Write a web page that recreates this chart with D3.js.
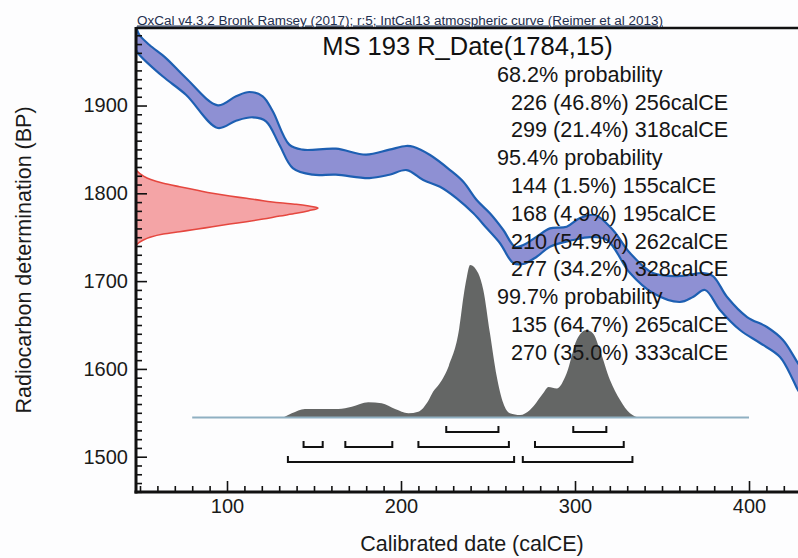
<!DOCTYPE html>
<html><head><meta charset="utf-8">
<script src="https://cdn.jsdelivr.net/npm/d3@7"></script>
<style>
body{margin:0;background:#fff;}
svg{display:block;font-family:"Liberation Sans",Arial,Helvetica,sans-serif;}
</style>
</head><body>
<svg id="chart" width="798" height="558"></svg>
<script>
// ---------------- data ----------------
const headerText = "OxCal v4.3.2 Bronk Ramsey (2017); r:5; IntCal13 atmospheric curve (Reimer et al 2013)";
const titleText = "MS 193 R_Date(1784,15)";
const xLabel = "Calibrated date (calCE)";
const yLabel = "Radiocarbon determination (BP)";
const xTickValues = [100, 200, 300, 400];
const yTickValues = [1500, 1600, 1700, 1800, 1900];

// calibration curve band (calCE year, BP)
const curveUpper = [[47.7,1990],[49.6,1980.6],[55.3,1969.2],[64.9,1954.0],[76.4,1931.3],[94.7,1900.2],[105.2,1910.5],[112.8,1915.4],[120.5,1910.5],[126.3,1893.4],[135.8,1855.4],[143.5,1849.7],[162.6,1850.8],[179.9,1844.0],[193.3,1849.7],[202.9,1853.9],[207.1,1853.0],[216.7,1843.6],[228.2,1826.5],[235.8,1813.2],[243.5,1792.4],[251.1,1777.2],[258.8,1758.2],[265.5,1739.2],[270.3,1741.1],[278.0,1750.6],[285.6,1760.1],[295.2,1762.0],[302.9,1771.9],[311.5,1775.3],[321.8,1758.2],[331.6,1732.0],[344.8,1709.2],[360.3,1705.8],[373.6,1709.2],[379.3,1705.8],[387.4,1681.9],[398.9,1659.1],[410.3,1647.7],[419.5,1632.9],[428.1,1606.7],[434.0,1590]];
const curveLower = [[47.7,1963.2],[49.6,1957.9],[63.0,1933.3],[76.4,1912.3],[94.7,1874.4],[105.2,1882.7],[114.8,1886.6],[122.4,1882.0],[130.1,1855.4],[137.8,1828.8],[149.3,1821.2],[162.6,1821.2],[181.8,1817.4],[193.3,1821.2],[203.3,1826.5],[212.8,1815.1],[222.4,1807.5],[232.0,1794.3],[241.6,1777.2],[249.3,1760.1],[256.9,1743.1],[264.5,1720.6],[270.3,1719.5],[278.0,1727.8],[285.6,1739.2],[299.0,1746.8],[308.6,1750.2],[318.4,1746.8],[331.6,1709.2],[344.8,1686.4],[360.3,1676.2],[367.8,1681.9],[374.7,1689.9],[383.3,1667.1],[394.8,1644.3],[406.3,1629.5],[417.8,1613.6],[425.3,1587.4],[428.1,1576],[434.0,1560]];

// radiocarbon likelihood (BP, relative density)
const likelihood = [[1826.5,0],[1819.7,0.04],[1815.9,0.077],[1811.4,0.15],[1807.5,0.24],[1803.8,0.33],[1800.0,0.42],[1796.9,0.515],[1794.3,0.607],[1791.6,0.698],[1789.3,0.79],[1787.5,0.88],[1785.5,0.95],[1783.4,1.0],[1780.2,0.95],[1777.2,0.88],[1774.1,0.79],[1770.7,0.698],[1767.7,0.607],[1765.0,0.515],[1762.0,0.42],[1759.0,0.33],[1756.3,0.24],[1753.6,0.15],[1749.9,0.077],[1746.8,0.04],[1741.1,0]];

// calibrated posterior (calCE year, relative density)
const posterior = [[80,0],[131.4,0],[137.2,0.028],[144.8,0.056],[152.5,0.056],[164.0,0.056],[171.7,0.071],[181.2,0.10],[188.9,0.093],[196.6,0.056],[204.2,0.028],[209.9,0.038],[215.7,0.11],[218.5,0.17],[222.0,0.22],[227.5,0.34],[233.4,0.58],[236.0,0.80],[237.8,0.92],[239.7,1.0],[244.4,0.946],[247.3,0.836],[251.1,0.554],[255.0,0.27],[258.8,0.093],[262.6,0.028],[268.4,0.016],[274.1,0.049],[281.8,0.16],[284.7,0.20],[289.5,0.19],[295.2,0.29],[301.0,0.51],[306.7,0.574],[310.5,0.55],[314.4,0.44],[320.1,0.246],[325.9,0.115],[331.6,0.028],[337.4,0],[400,0]];

// highest-probability ranges
const probLevels = ["68.2%", "95.4%", "99.7%"];
const ranges68 = [{from:226,pct:46.8,to:256},{from:299,pct:21.4,to:318}];
const ranges95 = [{from:144,pct:1.5,to:155},{from:168,pct:4.9,to:195},{from:210,pct:54.9,to:262},{from:277,pct:34.2,to:328}];
const ranges99 = [{from:135,pct:64.7,to:265},{from:270,pct:35.0,to:333}];

// ---------------- drawing ----------------
const svg = d3.select("#chart");
const L = 136, R = 808, T = 28, B = 492;
const x = d3.scaleLinear().domain([47.7, 433.9]).range([L, R]);
const y = d3.scaleLinear().domain([1459.8, 1988.3]).range([B, T]);
const lx = d3.scaleLinear().domain([0, 1]).range([L, 318]);   // likelihood width
const py = d3.scaleLinear().domain([0, 1]).range([417.5, 265]); // posterior height

svg.append("rect").attr("width",798).attr("height",558).attr("fill","#fdfdfe");

svg.append("defs").append("clipPath").attr("id","plot")
  .append("rect").attr("x",L).attr("y",T).attr("width",R-L).attr("height",B-T);
const g = svg.append("g").attr("clip-path","url(#plot)");

// calibration band
const edge = d3.line().x(d=>x(d[0])).y(d=>y(d[1])).curve(d3.curveCatmullRom);
const bandPath = edge(curveUpper) + edge(curveLower.slice().reverse()).replace(/^M/,"L") + "Z";
g.append("path").attr("d",bandPath)
  .attr("fill","#8e90d3").attr("stroke","#1d5fb2").attr("stroke-width",2.2).attr("stroke-linejoin","round");

// posterior
g.append("path").datum(posterior)
  .attr("d", d3.area().x(d=>x(d[0])).y0(py(0)).y1(d=>py(d[1])).curve(d3.curveMonotoneX))
  .attr("fill","#646665");
g.append("line").attr("x1",x(80)).attr("x2",x(400)).attr("y1",py(0)).attr("y2",py(0))
  .attr("stroke","#8fb0c2").attr("stroke-width",2);

// likelihood
const lik = likelihood.slice().sort((a,b)=>b[0]-a[0]);
g.append("path").datum(lik)
  .attr("d", d3.area().y(d=>y(d[0])).x0(lx(0)).x1(d=>lx(d[1])).curve(d3.curveMonotoneY))
  .attr("fill","#f4a4a6").attr("stroke","#e5473f").attr("stroke-width",1.6);

// text block
const lines = [];
[ranges68, ranges95, ranges99].forEach((rs,i)=>{
  lines.push({t: probLevels[i] + " probability", indent:false});
  rs.forEach(r=>lines.push({t: `${r.from} (${r.pct.toFixed(1)}%) ${r.to}calCE`, indent:true}));
});
svg.append("g").selectAll("text").data(lines).join("text")
  .attr("x", d=>d.indent?511:497)
  .attr("y", (d,i)=>81.7 + i*27.8)
  .attr("font-size","21.6px").attr("fill","#151515")
  .text(d=>d.t);

// range brackets
const bracketRows = [ranges68, ranges95, ranges99];
bracketRows.forEach((rs,i)=>{
  const yy = 432 + i*15;
  svg.append("g").selectAll("path").data(rs).join("path")
    .attr("d", r=>`M${x(r.from)},${yy-6}V${yy}H${x(r.to)}V${yy-6}`)
    .attr("fill","none").attr("stroke","#111").attr("stroke-width",2);
});

// axes
const yMajor = d3.axisLeft(y).tickValues(yTickValues).tickSize(-11).tickPadding(8).tickFormat(d3.format("d"));
const yMinor = d3.axisLeft(y).tickValues(d3.range(1460,1990,10).filter(v=>!yTickValues.includes(v))).tickSize(-6).tickFormat("");
const xMajor = d3.axisBottom(x).tickValues(xTickValues).tickSize(-11).tickPadding(7).tickFormat(d3.format("d"));
const xMinor = d3.axisBottom(x).tickValues(d3.range(50,440,10).filter(v=>!xTickValues.includes(v))).tickSize(-6).tickFormat("");

function styleAxis(sel){
  sel.select(".domain").remove();
  sel.selectAll("line").attr("stroke","#111").attr("stroke-width",1.6);
  sel.selectAll("text").attr("font-size","20px").attr("fill","#1a1a1a").attr("font-family",null);
}
svg.append("g").attr("transform",`translate(${L},0)`).call(yMinor).call(styleAxis);
svg.append("g").attr("transform",`translate(${L},0)`).call(yMajor).call(styleAxis);
svg.append("g").attr("transform",`translate(0,${B})`).call(xMinor).call(styleAxis);
svg.append("g").attr("transform",`translate(0,${B})`).call(xMajor).call(styleAxis);

// frame lines
svg.append("line").attr("x1",L).attr("x2",R).attr("y1",T).attr("y2",T).attr("stroke","#111").attr("stroke-width",2.5);
svg.append("line").attr("x1",L).attr("x2",L).attr("y1",T-1).attr("y2",B+1.5).attr("stroke","#111").attr("stroke-width",3);
svg.append("line").attr("x1",L-1.5).attr("x2",R).attr("y1",B).attr("y2",B).attr("stroke","#111").attr("stroke-width",3);

// header & title
svg.append("text").attr("x",137).attr("y",24.5).attr("font-size","12px").attr("fill","#1f2f4f")
  .attr("textLength",526).attr("lengthAdjust","spacingAndGlyphs")
  .attr("text-decoration","underline").text(headerText);
svg.append("text").attr("x",467.5).attr("y",55).attr("text-anchor","middle").attr("font-size","25.5px").attr("fill","#111").text(titleText);

// axis titles
svg.append("text").attr("x",(L+R)/2).attr("y",551).attr("text-anchor","middle").attr("font-size","21.5px").attr("fill","#1a1a1a").text(xLabel);
svg.append("text").attr("transform",`translate(31,260) rotate(-90)`).attr("text-anchor","middle").attr("font-size","21.5px").attr("fill","#1a1a1a").text(yLabel);
</script>
</body></html>
